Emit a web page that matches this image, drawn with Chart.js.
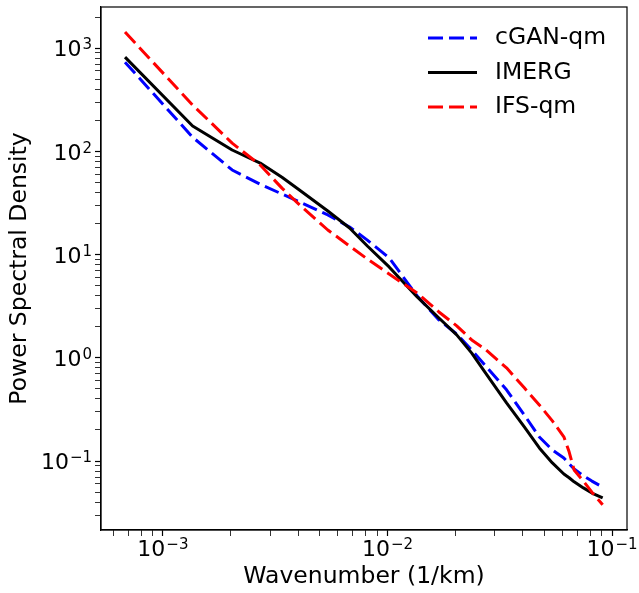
<!DOCTYPE html>
<html lang="en">
  <head>
    <meta charset="UTF-8" />
    <title>Power Spectral Density</title>
    <style>
      html,
      body {
        margin: 0;
        padding: 0;
        background: #ffffff;
      }
    </style>
    <script src="https://cdn.jsdelivr.net/npm/chart.js"></script>
  </head>
  <body>
    <canvas id="psdChart" width="639" height="593"></canvas>
    <script>
      // wavenumber (1/km) and the spectra
      const wavenumber = [
        0.000678, 0.001356, 0.002034, 0.002712, 0.00339, 0.004068, 0.005424,
        0.00678, 0.008136, 0.01017, 0.01356, 0.01695, 0.02034, 0.02373,
        0.02712, 0.0339, 0.04068, 0.04746, 0.05424, 0.06102, 0.06441, 0.0678,
        0.07458, 0.08136, 0.09085,
      ];
      const cganQm = [
        731, 137, 66, 48, 38.6, 32.3, 24.2, 18.5, 13.8, 9.3, 3.97, 2.33, 1.7,
        1.19, 0.853, 0.49, 0.28, 0.171, 0.128, 0.107, 0.094, 0.084, 0.072,
        0.064, 0.056,
      ];
      const imerg = [
        818, 176, 103, 77, 56, 42, 26.4, 18.1, 12.1, 7.59, 3.89, 2.43, 1.67,
        1.11, 0.731, 0.366, 0.214, 0.134, 0.096, 0.075, 0.069, 0.063, 0.055,
        0.049, 0.044,
      ];
      const ifsQm = [
        1429, 281, 120, 73.6, 44, 30.2, 17.3, 12.1, 9.06, 6.48, 4.25, 2.78,
        2.04, 1.49, 1.22, 0.8, 0.512, 0.35, 0.245, 0.172, 0.123, 0.082, 0.064,
        0.05, 0.0377,
      ];

      // ticks: decades get a "10^n" label, the rest are plain minor ticks
      const xMajor = [1e-3, 1e-2, 1e-1];
      const xExponents = ["−3", "−2", "−1"];
      const xMinor = [
        6e-4, 7e-4, 8e-4, 9e-4, 2e-3, 3e-3, 4e-3, 5e-3, 6e-3, 7e-3, 8e-3, 9e-3,
        2e-2, 3e-2, 4e-2, 5e-2, 6e-2, 7e-2, 8e-2, 9e-2,
      ];
      const yMajor = [1e-1, 1e0, 1e1, 1e2, 1e3];
      const yExponents = ["−1", "0", "1", "2", "3"];
      const yMinor = [
        0.03, 0.04, 0.05, 0.06, 0.07, 0.08, 0.09, 0.2, 0.3, 0.4, 0.5, 0.6,
        0.7, 0.8, 0.9, 2, 3, 4, 5, 6, 7, 8, 9, 20, 30, 40, 50, 60, 70, 80, 90,
        200, 300, 400, 500, 600, 700, 800, 900, 2000,
      ];

      const FONT = "'DejaVu Sans', sans-serif";
      const BASE_FONT = "22px " + FONT;
      const SUP_FONT = "15px " + FONT;

      function sameValue(a, b) {
        return Math.abs(Math.log10(a) - Math.log10(b)) < 1e-6;
      }

      function tickSetter(major, minor) {
        return function (scale) {
          scale.ticks = major
            .map((v) => ({ value: v, major: true }))
            .concat(minor.map((v) => ({ value: v, major: false })))
            .sort((a, b) => a.value - b.value);
        };
      }

      function tickWidth(major) {
        return function (ctx) {
          if (!ctx.tick) return 1;
          return major.some((m) => sameValue(m, ctx.tick.value)) ? 1.2 : 0.8;
        };
      }

      const points = (ys) => wavenumber.map((x, i) => ({ x: x, y: ys[i] }));

      // box around the plot area (matplotlib spines)
      const frame = {
        id: "frame",
        afterDatasetsDraw(chart) {
          const { ctx, chartArea } = chart;
          ctx.save();
          ctx.strokeStyle = "#000";
          ctx.lineWidth = 1.2;
          ctx.strokeRect(
            chartArea.left,
            chartArea.top,
            chartArea.right - chartArea.left,
            chartArea.bottom - chartArea.top
          );
          ctx.restore();
        },
      };

      // "10" with a raised exponent, like matplotlib's mathtext labels
      const powerLabels = {
        id: "powerLabels",
        afterDraw(chart) {
          const { ctx } = chart;
          const xs = chart.scales.x;
          const ys = chart.scales.y;
          ctx.save();
          ctx.fillStyle = "#000";
          ctx.textBaseline = "alphabetic";
          ctx.textAlign = "left";

          function widths(exp) {
            ctx.font = BASE_FONT;
            const w1 = ctx.measureText("10").width;
            ctx.font = SUP_FONT;
            const w2 = ctx.measureText(exp).width;
            return [w1, w2];
          }
          function draw(exp, left, baseline, w1) {
            ctx.font = BASE_FONT;
            ctx.fillText("10", left, baseline);
            ctx.font = SUP_FONT;
            ctx.fillText(exp, left + w1 + 1, baseline - 7);
          }

          xMajor.forEach((v, i) => {
            const [w1, w2] = widths(xExponents[i]);
            const px = xs.getPixelForValue(v);
            draw(xExponents[i], px - (w1 + w2 + 1) / 2, xs.top + 26, w1);
          });
          yMajor.forEach((v, i) => {
            const [w1, w2] = widths(yExponents[i]);
            const py = ys.getPixelForValue(v);
            draw(yExponents[i], ys.right - 9 - (w1 + w2 + 1), py + 8.3, w1);
          });
          ctx.restore();
        },
      };

      // legend in the upper right corner, no frame
      const cornerLegend = {
        id: "cornerLegend",
        afterDraw(chart) {
          const { ctx, chartArea } = chart;
          const x0 = chartArea.right - 199;
          chart.data.datasets.forEach((ds, i) => {
            const y = chartArea.top + 31 + i * 34.5;
            ctx.save();
            ctx.strokeStyle = ds.borderColor;
            ctx.lineWidth = ds.borderWidth;
            ctx.lineCap = "butt";
            ctx.setLineDash(ds.borderDash || []);
            ctx.beginPath();
            ctx.moveTo(x0, y);
            ctx.lineTo(x0 + 49, y);
            ctx.stroke();
            ctx.setLineDash([]);
            ctx.fillStyle = "#000";
            ctx.font = "23.5px " + FONT;
            ctx.textBaseline = "middle";
            ctx.fillText(ds.label, x0 + 67, y);
            ctx.restore();
          });
        },
      };

      const config = {
        type: "line",
        data: {
          datasets: [
            {
              label: "cGAN-qm",
              data: points(cganQm),
              borderColor: "#0000ff",
              borderWidth: 3,
              borderDash: [15, 6],
              order: 3,
            },
            {
              label: "IMERG",
              data: points(imerg),
              borderColor: "#000000",
              borderWidth: 3,
              order: 2,
            },
            {
              label: "IFS-qm",
              data: points(ifsQm),
              borderColor: "#ff0000",
              borderWidth: 3,
              borderDash: [15, 6],
              order: 1,
            },
          ],
        },
        options: {
          responsive: false,
          animation: false,
          devicePixelRatio: 1,
          layout: { padding: { left: 0, right: 12, top: 7, bottom: 0 } },
          elements: {
            point: { radius: 0 },
            line: { tension: 0, borderJoinStyle: "round", fill: false },
          },
          plugins: {
            legend: { display: false },
            tooltip: { enabled: false },
          },
          scales: {
            x: {
              type: "logarithmic",
              min: 5.3e-4,
              max: 0.1166,
              afterBuildTicks: tickSetter(xMajor, xMinor),
              afterFit: (scale) => {
                scale.height = 63;
                scale.paddingLeft = 0;
                scale.paddingRight = 0;
              },
              ticks: {
                autoSkip: false,
                maxRotation: 0,
                font: { family: FONT, size: 10 },
                callback: () => "",
              },
              grid: {
                drawOnChartArea: false,
                tickLength: 6,
                tickColor: "#000",
                tickWidth: tickWidth(xMajor),
              },
              border: { display: true, color: "#000", width: 1.2 },
              title: {
                display: true,
                text: "Wavenumber (1/km)",
                color: "#000",
                font: { family: FONT, size: 23.5 },
                padding: { top: 0, bottom: 2 },
              },
            },
            y: {
              type: "logarithmic",
              min: 0.0215,
              max: 2500,
              afterBuildTicks: tickSetter(yMajor, yMinor),
              afterFit: (scale) => {
                scale.width = 101;
                scale.paddingTop = 0;
                scale.paddingBottom = 0;
              },
              ticks: {
                autoSkip: false,
                font: { family: FONT, size: 10 },
                callback: () => "",
              },
              grid: {
                drawOnChartArea: false,
                tickLength: 6,
                tickColor: "#000",
                tickWidth: tickWidth(yMajor),
              },
              border: { display: true, color: "#000", width: 1.2 },
              title: {
                display: true,
                text: "Power Spectral Density",
                color: "#000",
                font: { family: FONT, size: 23.5 },
                padding: { top: 6, bottom: 0 },
              },
            },
          },
        },
        plugins: [frame, powerLabels, cornerLegend],
      };

      const psdChart = new Chart(document.getElementById("psdChart"), config);
    </script>
  </body>
</html>
